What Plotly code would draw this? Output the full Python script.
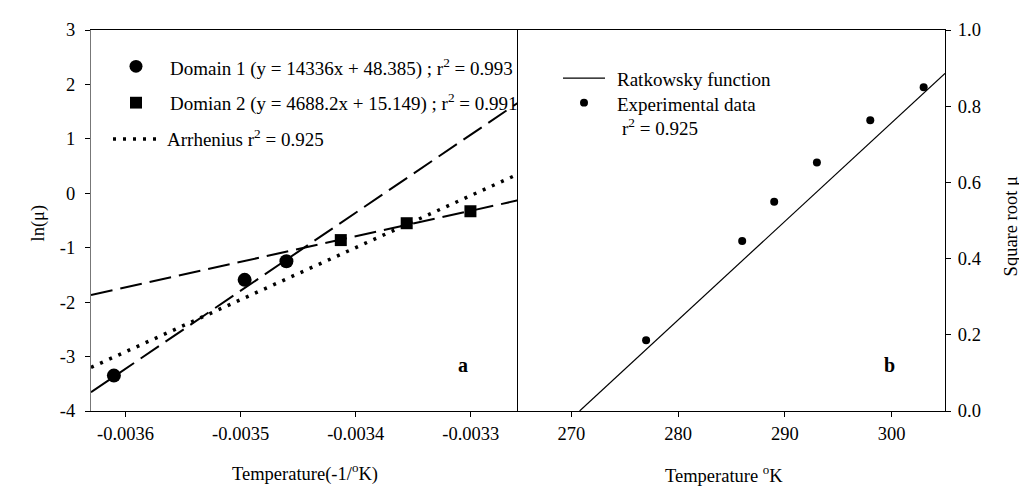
import plotly.graph_objects as go
from plotly.subplots import make_subplots
import numpy as np

# ---------------- data ----------------
# panel a : Arrhenius plot
d1_x = [-1/277, -1/286, -1/289]
d1_y = [-3.35, -1.59, -1.25]
d2_x = [-1/293, -1/298, -1/303]
d2_y = [-0.86, -0.55, -0.33]
d1_slope, d1_intercept = 14336, 48.385
d2_slope, d2_intercept = 4688.2, 15.149
arr_slope, arr_intercept = 9570, 31.54
a_xrange = [-0.00363, -0.003259]
a_xticks = [-0.0036, -0.0035, -0.0034, -0.0033]
a_xticktext = ["-0.0036", "-0.0035", "-0.0034", "-0.0033"]
a_yticks = [-4, -3, -2, -1, 0, 1, 2, 3]
a_yticktext = ["-4", "-3", "-2", "-1", "0", "1", "2", "3"]

# panel b : Ratkowsky plot
temp_k = [277, 286, 289, 293, 298, 303]
sqrt_mu = [0.186, 0.446, 0.549, 0.652, 0.763, 0.85]
rat_b, rat_tmin = 0.02589, 270.77
b_xrange = [265, 305]
b_xticks = [270, 280, 290, 300]
b_yticks = [0.0, 0.2, 0.4, 0.6, 0.8, 1.0]
b_yticktext = ["0.0", "0.2", "0.4", "0.6", "0.8", "1.0"]

FONT = "Liberation Serif, Times New Roman, serif"
FS = 18.5
LFS = 19

fig = make_subplots(rows=1, cols=2, horizontal_spacing=0)

xa = np.linspace(a_xrange[0], a_xrange[1], 50)
fig.add_trace(go.Scatter(x=xa, y=d1_slope * xa + d1_intercept, mode="lines",
                         line=dict(color="black", width=2, dash="22px,8px")), 1, 1)
fig.add_trace(go.Scatter(x=xa, y=d2_slope * xa + d2_intercept, mode="lines",
                         line=dict(color="black", width=2, dash="22px,8px")), 1, 1)
fig.add_trace(go.Scatter(x=xa, y=arr_slope * xa + arr_intercept, mode="lines",
                         line=dict(color="black", width=3.5, dash="3px,7px")), 1, 1)
fig.add_trace(go.Scatter(x=d1_x, y=d1_y, mode="markers",
                         marker=dict(symbol="circle", size=14, color="black")), 1, 1)
fig.add_trace(go.Scatter(x=d2_x, y=d2_y, mode="markers",
                         marker=dict(symbol="square", size=12, color="black")), 1, 1)

tb = np.linspace(rat_tmin, b_xrange[1], 50)
fig.add_trace(go.Scatter(x=tb, y=rat_b * (tb - rat_tmin), mode="lines",
                         line=dict(color="black", width=1.2)), 1, 2)
fig.add_trace(go.Scatter(x=temp_k, y=sqrt_mu, mode="markers",
                         marker=dict(symbol="circle", size=8, color="black")), 1, 2)

tickfont = dict(family=FONT, size=FS, color="black")
fig.update_xaxes(range=a_xrange, tickvals=a_xticks, ticktext=a_xticktext,
                 ticks="outside", ticklen=5, tickcolor="black", showline=True,
                 linecolor="black", linewidth=1.2, mirror=True, showgrid=False,
                 zeroline=False, tickfont=tickfont, ticklabelstandoff=1, row=1, col=1)
fig.update_yaxes(range=[-4, 3], tickvals=a_yticks, ticktext=a_yticktext,
                 ticks="outside", ticklen=5, tickcolor="black", showline=True,
                 linecolor="#777777", linewidth=1.2, showgrid=False,
                 zeroline=False, tickfont=tickfont, ticklabelstandoff=6, row=1, col=1)
fig.update_xaxes(range=b_xrange, tickvals=b_xticks,
                 ticks="outside", ticklen=5, tickcolor="black", showline=True,
                 linecolor="black", linewidth=1.2, mirror=True, showgrid=False,
                 zeroline=False, tickfont=tickfont, ticklabelstandoff=1, row=1, col=2)
fig.update_yaxes(range=[0, 1], tickvals=b_yticks, ticktext=b_yticktext, side="right",
                 ticks="outside", ticklen=5, tickcolor="black", showline=True,
                 linecolor="black", linewidth=1.2, mirror=True, showgrid=False,
                 zeroline=False, tickfont=tickfont, ticklabelstandoff=3, row=1, col=2)

L, R, T, B = 83, 90, 15, 96
W, H = 1027, 499
PW, PH = W - L - R, H - T - B


def px(x, y):
    return (x - L) / PW, (H - B - y) / PH


shapes = []
annotations = []


def text(x, y, s, size=LFS, xanchor="left", bold=False, angle=0):
    px_, py_ = px(x, y)
    if bold:
        s = "<b>" + s + "</b>"
    annotations.append(dict(x=px_, y=py_, xref="paper", yref="paper", text=s,
                            showarrow=False, xanchor=xanchor, yanchor="middle",
                            textangle=angle,
                            font=dict(family=FONT, size=size, color="black")))


# legend panel a
shapes.append(dict(type="circle", xref="paper", yref="paper",
                   x0=(128 - 6.5 - L) / PW, x1=(128 + 6.5 - L) / PW,
                   y0=(H - B - 52 - 6.5) / PH, y1=(H - B - 52 + 6.5) / PH,
                   fillcolor="black", line=dict(width=0)))
shapes.append(dict(type="rect", xref="paper", yref="paper",
                   x0=(128 - 6 - L) / PW, x1=(128 + 6 - L) / PW,
                   y0=(H - B - 89 - 6) / PH, y1=(H - B - 89 + 6) / PH,
                   fillcolor="black", line=dict(width=0)))
x0, y0 = px(105, 126)
x1, _ = px(152, 126)
shapes.append(dict(type="line", xref="paper", yref="paper", x0=x0, x1=x1, y0=y0, y1=y0,
                   line=dict(color="black", width=3.5, dash="3px,7px")))
text(160, 53, "Domain 1 (y = 14336x + 48.385) ; r<sup>2</sup> = 0.993")
text(160, 89, "Domian 2 (y = 4688.2x + 15.149) ; r<sup>2</sup> = 0.991")
text(157, 125, "Arrhenius r<sup>2</sup> = 0.925")

# legend panel b
x0, y0 = px(555, 64)
x1, _ = px(597, 64)
shapes.append(dict(type="line", xref="paper", yref="paper", x0=x0, x1=x1, y0=y0, y1=y0,
                   line=dict(color="black", width=1.2)))
shapes.append(dict(type="circle", xref="paper", yref="paper",
                   x0=(576 - 4 - L) / PW, x1=(576 + 4 - L) / PW,
                   y0=(H - B - 89 - 4) / PH, y1=(H - B - 89 + 4) / PH,
                   fillcolor="black", line=dict(width=0)))
text(607, 65, "Ratkowsky function")
text(607, 91, "Experimental data")
text(612, 114, "r<sup>2</sup> = 0.925")

# panel letters
text(455, 356, "a", size=20, xanchor="center", bold=True)
text(881, 356, "b", size=20, xanchor="center", bold=True)

# axis titles
text(30, 212, "ln(μ)", size=FS, xanchor="center", angle=-90)
text(1003, 215, "Square root μ", size=FS, xanchor="center", angle=-90)
text(297, 466, "Temperature(-1/<sup>o</sup>K)", size=FS, xanchor="center")
text(716, 467, "Temperature <sup>o</sup>K", size=FS, xanchor="center")

fig.update_layout(width=W, height=H, margin=dict(l=L, r=R, t=T, b=B),
                  plot_bgcolor="white", paper_bgcolor="white", showlegend=False,
                  shapes=shapes, annotations=annotations,
                  font=dict(family=FONT, size=FS, color="black"))

fig.write_html("out.html")
